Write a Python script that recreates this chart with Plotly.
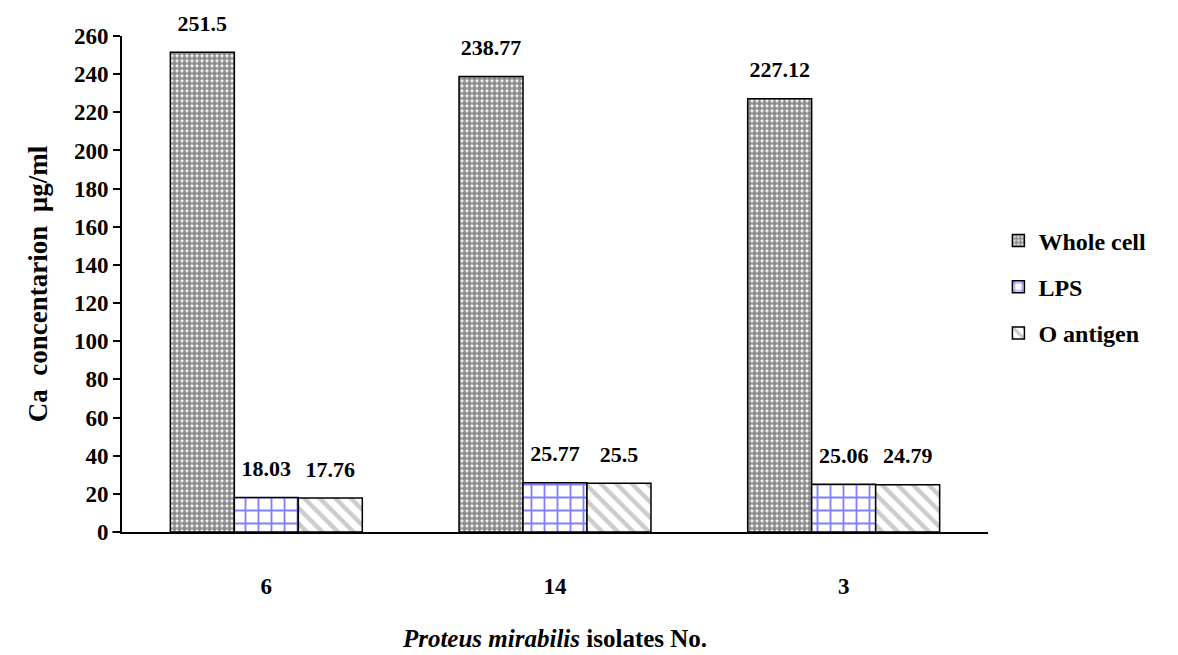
import plotly.graph_objects as go

categories = ["6", "14", "3"]
whole_cell = [251.5, 238.77, 227.12]
lps = [18.03, 25.77, 25.06]
o_antigen = [17.76, 25.5, 24.79]
series_names = ["Whole cell", "LPS", "O antigen"]
y_ticks = list(range(0, 261, 20))

FONT = "Liberation Serif"
label_font = dict(family=FONT, size=22, color="black")

patterns = [
    dict(shape=".", fgcolor="#1a1a1a", bgcolor="white", size=5, solidity=0.75, fillmode="overlay"),
    dict(shape="+", fgcolor="#0000ff", bgcolor="white", size=13, solidity=0.26, fillmode="overlay"),
    dict(shape="\\", fgcolor="#999999", bgcolor="white", size=11, solidity=0.4, fillmode="overlay"),
]
all_series = [whole_cell, lps, o_antigen]

fig = go.Figure()
for name, vals, pat in zip(series_names, all_series, patterns):
    fig.add_trace(go.Bar(
        x=categories, y=vals, name=f"<b>{name}</b>", legendgroup=name,
        marker=dict(color="white", line=dict(color="black", width=1.5), pattern=pat),
        hoverinfo="skip",
    ))
for name, vals in zip(series_names, all_series):
    fig.add_trace(go.Scatter(
        x=categories, y=vals, mode="markers+text", showlegend=False,
        legendgroup=name,
        text=[f"<b>{v}</b>" for v in vals], textposition="top center",
        textfont=label_font, cliponaxis=False, hoverinfo="skip",
        marker=dict(size=24, opacity=0),
    ))

fig.update_layout(
    width=1178, height=655,
    margin=dict(l=114, r=198, t=28, b=131),
    paper_bgcolor="white", plot_bgcolor="white",
    barmode="group", bargap=0.335, bargroupgap=0,
    scattermode="group", scattergap=0.335,
    font=dict(family=FONT, color="black"),
    showlegend=True,
    legend=dict(x=1.012, y=0.494, xanchor="left", yanchor="middle",
                font=dict(family=FONT, size=24, color="black"),
                tracegroupgap=12, bgcolor="rgba(0,0,0,0)",
                traceorder="grouped"),
)
fig.update_xaxes(
    showline=True, linecolor="black", linewidth=2,
    ticks="", showgrid=False, zeroline=False,
    tickvals=categories, ticktext=[f"<b>{c}</b>" for c in categories],
    tickfont=dict(family=FONT, size=23, color="black"),
    ticklabelstandoff=32,
    title=dict(text="<b><i>Proteus mirabilis</i> isolates No.</b>",
               font=dict(family=FONT, size=25, color="black"), standoff=32),
)
fig.update_yaxes(
    range=[0, 260], tickvals=y_ticks, ticktext=[f"<b>{v}</b>" for v in y_ticks],
    showline=True, linecolor="black", linewidth=2,
    ticks="outside", ticklen=7, tickwidth=2, tickcolor="black",
    showgrid=False, zeroline=False,
    tickfont=dict(family=FONT, size=23, color="black"),
    title=dict(text="<b>Ca  concentarion  µg/ml</b>",
               font=dict(family=FONT, size=27, color="black"), standoff=18),
)
fig.add_shape(type="line", xref="paper", yref="paper", x0=-0.011, x1=0, y0=0, y1=0,
              line=dict(color="black", width=2))

fig.write_html("out.html")
